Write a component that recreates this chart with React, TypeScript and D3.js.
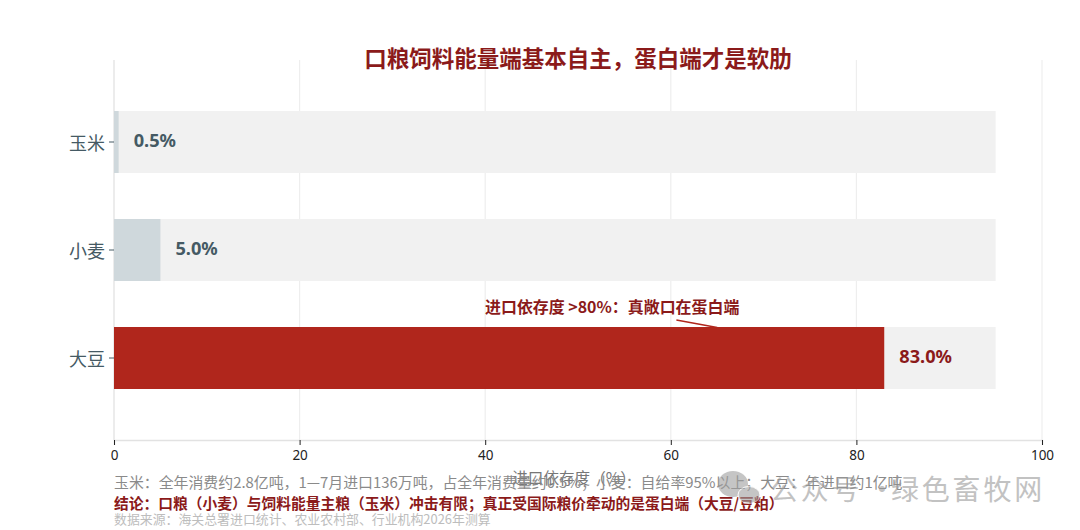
import { axisBottom, axisLeft, scaleBand, scaleLinear, select } from 'd3';
import { useEffect, useRef } from 'react';

const categories = ['玉米', '小麦', '大豆'];
const values = [0.5, 5.0, 83.0];
const trackValue = 95;
const xTicks = [0, 20, 40, 60, 80, 100];
const barColors = ['#cfd8dc', '#cfd8dc', '#b0261c'];
const labelColors = ['#455a64', '#455a64', '#8b1a1a'];

const titleText = '口粮饲料能量端基本自主\uFF0C蛋白端才是软肋';
const noteText = '进口依存度 >80%\uFF1A真敞口在蛋白端';
const xAxisLabel = '进口依存度\uFF08%\uFF09';
const footLines = [
  '玉米\uFF1A全年消费约2.8亿吨\uFF0C1\u20147月进口136万吨\uFF0C占全年消费量约0.5%\uFF1B小麦\uFF1A自给率95%以上\uFF1B大豆\uFF1A年进口约1亿吨',
  '结论\uFF1A口粮\uFF08小麦\uFF09与饲料能量主粮\uFF08玉米\uFF09冲击有限\uFF1B真正受国际粮价牵动的是蛋白端\uFF08大豆/豆粕\uFF09',
  '数据来源\uFF1A海关总署进口统计\u3001农业农村部\u3001行业机构2026年测算'
];
const watermarkLeft = '公众号';
const watermarkDot = '\u00B7';
const watermarkRight = '绿色畜牧网';

const fontCjk = '"Noto Sans CJK SC", "Noto Sans", sans-serif';
const fontLatin = '"Noto Sans", "Noto Sans CJK SC", sans-serif';

function App(): JSX.Element {
  const svgRef = useRef<SVGSVGElement | null>(null);

  useEffect(() => {
    if (svgRef.current) svgRef.current.innerHTML = '';
    const svg = select(svgRef.current);

    const left = 114;
    const right = 1042;
    const top = 60;
    const bottom = 440;

    const x = scaleLinear().domain([0, 100]).range([left, right]);
    const y = scaleBand<string>()
      .domain(categories)
      .range([88, 412])
      .paddingInner(0.426)
      .paddingOuter(0.213);

    // grid
    xTicks.forEach((t) => {
      svg
        .append('line')
        .attr('x1', x(t))
        .attr('x2', x(t))
        .attr('y1', top)
        .attr('y2', bottom)
        .attr('stroke', '#eeeeee')
        .attr('stroke-width', 1.2);
    });

    // track + bars
    categories.forEach((c, i) => {
      svg
        .append('rect')
        .attr('x', x(0))
        .attr('y', y(c) as number)
        .attr('width', x(trackValue) - x(0))
        .attr('height', y.bandwidth())
        .attr('fill', '#f1f1f1');

      svg
        .append('rect')
        .attr('x', x(0))
        .attr('y', y(c) as number)
        .attr('width', x(values[i]) - x(0))
        .attr('height', y.bandwidth())
        .attr('fill', barColors[i]);

      svg
        .append('text')
        .attr('x', x(values[i]) + 15)
        .attr('y', (y(c) as number) + y.bandwidth() / 2 - 1)
        .attr('dy', '0.35em')
        .attr('font-family', fontLatin)
        .attr('font-size', 18.2)
        .attr('font-weight', 700)
        .attr('fill', labelColors[i])
        .text(`${values[i].toFixed(1)}%`);
    });

    // axes
    const xAxis = svg
      .append('g')
      .attr('transform', `translate(0,${bottom})`)
      .call(axisBottom(x).tickValues(xTicks).tickSize(5).tickPadding(5));
    xAxis.select('.domain').attr('stroke', '#e2e2e2').attr('stroke-width', 1.5);
    xAxis.selectAll('.tick line').attr('stroke', '#222');
    xAxis
      .selectAll('text')
      .attr('font-family', fontLatin)
      .attr('font-size', 13.5)
      .attr('fill', '#222');

    const yAxis = svg
      .append('g')
      .attr('transform', `translate(${left},0)`)
      .call(axisLeft(y).tickSize(5).tickPadding(4));
    yAxis.select('.domain').remove();
    yAxis.selectAll('.tick line').attr('stroke', '#455a64');
    yAxis
      .selectAll('text')
      .attr('font-family', fontCjk)
      .attr('font-size', 18)
      .attr('dy', '0.42em')
      .attr('fill', '#455a64');
    svg
      .append('line')
      .attr('x1', left)
      .attr('x2', left)
      .attr('y1', top)
      .attr('y2', bottom)
      .attr('stroke', '#e2e2e2')
      .attr('stroke-width', 1.5)
      .lower();

    // title
    svg
      .append('text')
      .attr('x', 578)
      .attr('y', 67)
      .attr('text-anchor', 'middle')
      .attr('font-family', fontCjk)
      .attr('font-size', 22.5)
      .attr('font-weight', 700)
      .attr('fill', '#8b1a1a')
      .text(titleText);

    // annotation
    svg
      .append('text')
      .attr('x', 485)
      .attr('y', 313)
      .attr('font-family', fontCjk)
      .attr('font-size', 15.95)
      .attr('font-weight', 700)
      .attr('fill', '#8b1a1a')
      .text(noteText);
    svg
      .append('line')
      .attr('x1', x(60.6))
      .attr('x2', x(65))
      .attr('y1', 320)
      .attr('y2', (y('大豆') as number) + 0.5)
      .attr('stroke', '#b0261c')
      .attr('stroke-width', 1.5);

    // axis label
    svg
      .append('text')
      .attr('x', 574)
      .attr('y', 484)
      .attr('text-anchor', 'middle')
      .attr('font-family', fontCjk)
      .attr('font-size', 15.6)
      .attr('fill', '#777')
      .text(xAxisLabel);

    // footnotes
    const footY = [488, 509, 524];
    const footSize = [14.9, 14.75, 12.9];
    const footColor = ['#8a8a8a', '#8b1a1a', '#bdbdbd'];
    const footWeight = [400, 700, 400];
    footLines.forEach((t, i) => {
      svg
        .append('text')
        .attr('x', left)
        .attr('y', footY[i])
        .attr('font-family', fontCjk)
        .attr('font-size', footSize[i])
        .attr('font-weight', footWeight[i])
        .attr('fill', footColor[i])
        .text(t);
    });

    // watermark
    const mark = svg.append('g').attr('opacity', 0.6);
    mark
      .append('ellipse')
      .attr('cx', 733)
      .attr('cy', 484)
      .attr('rx', 15)
      .attr('ry', 13)
      .attr('fill', '#a0a0a0');
    mark
      .append('ellipse')
      .attr('cx', 749)
      .attr('cy', 495)
      .attr('rx', 11)
      .attr('ry', 8.5)
      .attr('fill', '#a0a0a0')
      .attr('stroke', '#fff')
      .attr('stroke-width', 1);
    [
      { text: watermarkLeft, at: 770 },
      { text: watermarkDot, at: 868 },
      { text: watermarkRight, at: 891 }
    ].forEach((d) => {
      mark
        .append('text')
        .attr('x', d.at)
        .attr('y', 500)
        .attr('font-family', fontCjk)
        .attr('font-size', 28)
        .attr('letter-spacing', 2.8)
        .attr('fill', '#9a9a9a')
        .text(d.text);
    });
  }, []);

  return (
    <svg
      ref={svgRef}
      width={1080}
      height={530}
      style={{ position: 'absolute', left: 0, top: 0, background: '#fff' }}
    />
  );
}

export default App;
